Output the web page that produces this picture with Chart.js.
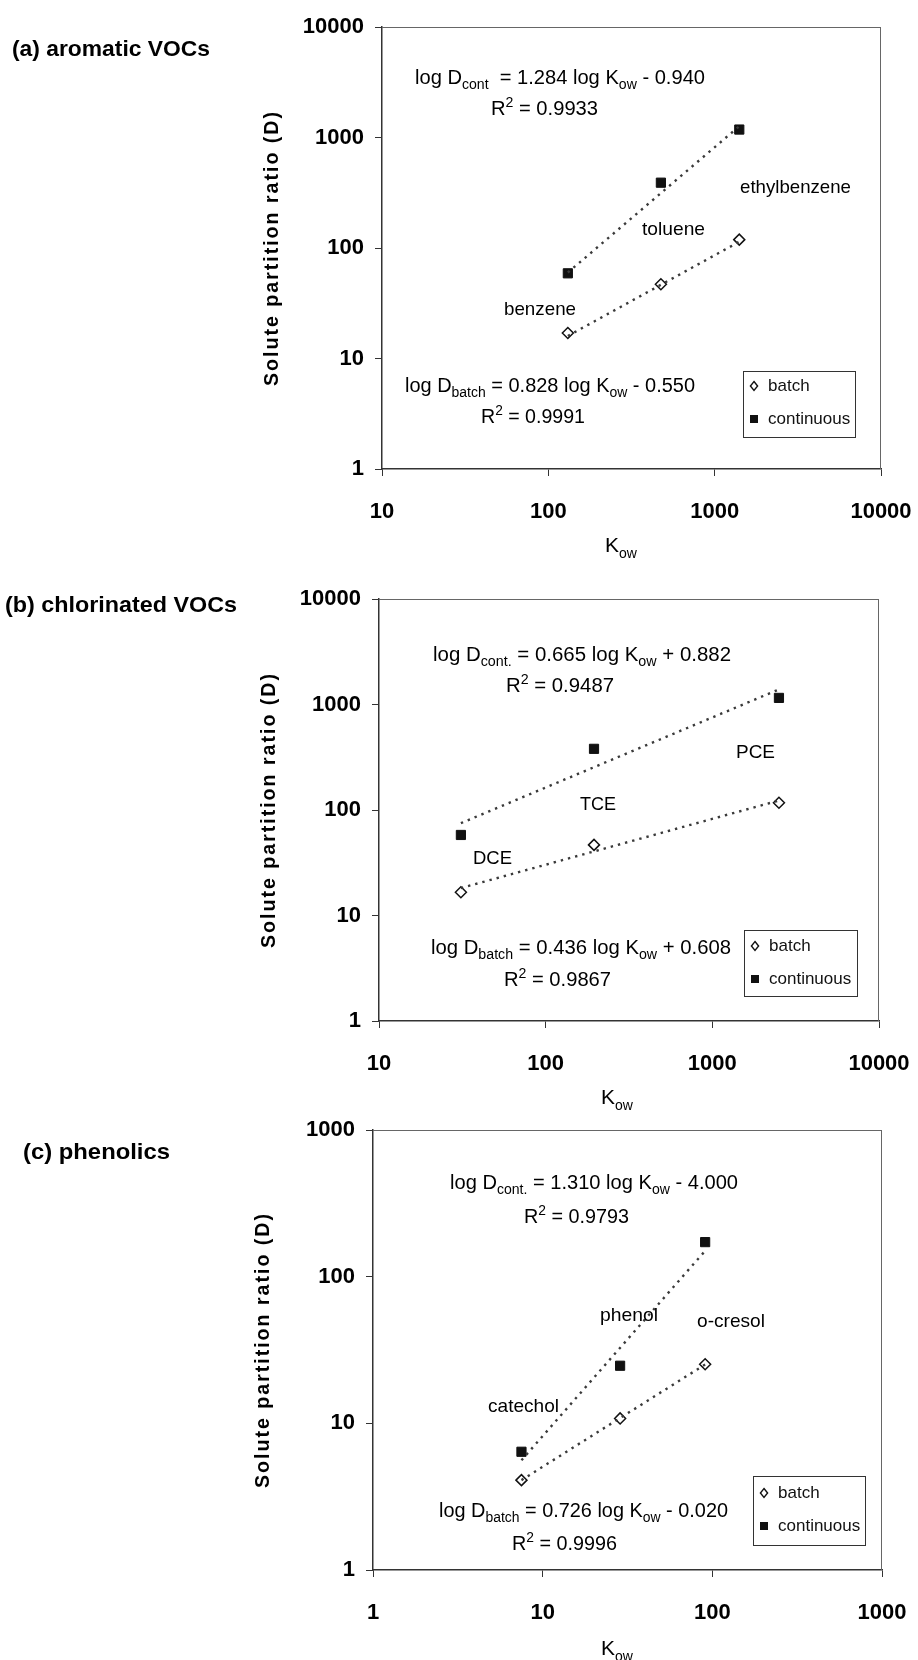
<!DOCTYPE html>
<html>
<head>
<meta charset="utf-8">
<script src="https://cdn.jsdelivr.net/npm/chart.js@4.4.0/dist/chart.umd.min.js"></script>
<style>
  body { margin: 0; background: #fff; }
  #page { position: relative; width: 918px; height: 1660px; overflow: hidden; }
  canvas { position: absolute; left: 0; }
</style>
</head>
<body>
<div id="page">
  <canvas id="chartA" width="918" height="580" style="top:0px"></canvas>
  <canvas id="chartB" width="918" height="570" style="top:560px"></canvas>
  <canvas id="chartC" width="918" height="550" style="top:1110px"></canvas>
</div>
<script>
// (a) aromatic VOCs
const aKow = [131, 475, 1406];
const aBatch = [17, 47, 119];
const aCont = [59, 390, 1180];
const aBatchFit = [16.0, 114];
const aContFit = [60, 1265];

// (b) chlorinated VOCs
const bKow = [31, 195, 2510];
const bBatch = [16.6, 46.7, 117];
const bCont = [58, 380, 1155];
const bBatchFit = [18.2, 123];
const bContFit = [75, 1390];

// (c) phenolics
const cKow = [7.5, 28.6, 90.7];
const cBatch = [4.1, 10.8, 25.3];
const cCont = [6.4, 24.7, 172];
const cBatchFit = [4.1, 25.2];
const cContFit = [5.6, 150];

const ticksVOC = [10, 100, 1000, 10000];
const ticksD4 = [1, 10, 100, 1000, 10000];
const ticksPhen = [1, 10, 100, 1000];
const ticksD3 = [1, 10, 100, 1000];

const FONT = "'Liberation Sans', Arial, sans-serif";

// draws text made of pieces: 0 normal, 1 subscript, 2 superscript
function drawRich(ctx, segs, x, y, size, width, bold) {
    const w = bold ? 'bold ' : '';
    const small = Math.round(size * 0.68);
    let total = 0;
    segs.forEach(s => {
        ctx.font = w + (s[1] ? small : size) + 'px ' + FONT;
        total += ctx.measureText(s[0]).width;
    });
    const sc = width ? width / total : 1;
    ctx.save();
    ctx.translate(x, y);
    ctx.scale(sc, 1);
    ctx.textBaseline = 'alphabetic';
    ctx.textAlign = 'left';
    let cx = 0;
    segs.forEach(s => {
        ctx.font = w + (s[1] ? small : size) + 'px ' + FONT;
        const dy = s[1] === 1 ? size * 0.27 : (s[1] === 2 ? -size * 0.4 : 0);
        ctx.fillText(s[0], cx, dy);
        cx += ctx.measureText(s[0]).width;
    });
    ctx.restore();
}

function makeAnnot(p) {
    return {
        id: 'annot_' + p.id,
        afterDraw(chart) {
            const ctx = chart.ctx;
            const a = chart.chartArea;
            const top = p.canvasTop;
            ctx.save();
            // box top and right
            ctx.strokeStyle = '#666';
            ctx.lineWidth = 1;
            ctx.beginPath();
            ctx.moveTo(a.left, a.top + 0.5);
            ctx.lineTo(a.right, a.top + 0.5);
            ctx.moveTo(a.right - 0.5, a.top);
            ctx.lineTo(a.right - 0.5, a.bottom);
            ctx.stroke();

            ctx.fillStyle = '#000';
            p.texts.forEach(t => drawRich(ctx, t.segs, t.x, t.y - top, t.size, t.w, t.bold));

            // y axis title
            ctx.save();
            ctx.translate(a.left - 110, (a.top + a.bottom) / 2);
            ctx.rotate(-Math.PI / 2);
            ctx.font = 'bold 20px ' + FONT;
            ctx.letterSpacing = '2px';
            const label = 'Solute partition ratio (D)';
            const lw = ctx.measureText(label).width;
            ctx.scale(276 / lw, 1);
            ctx.textAlign = 'center';
            ctx.textBaseline = 'middle';
            ctx.fillText(label, 0, 0);
            ctx.restore();
            ctx.letterSpacing = '0px';

            // legend
            const L = p.legend;
            ctx.fillStyle = '#fff';
            ctx.fillRect(L.l, L.t - top, L.r - L.l, L.b - L.t);
            ctx.strokeStyle = '#333';
            ctx.lineWidth = 1;
            ctx.strokeRect(L.l + 0.5, L.t - top + 0.5, L.r - L.l, L.b - L.t);
            const mx = L.l + 11;
            const y1 = L.row1 - top, y2 = L.row2 - top;
            ctx.beginPath();
            ctx.moveTo(mx, y1 - 4.5);
            ctx.lineTo(mx + 3.6, y1);
            ctx.lineTo(mx, y1 + 4.5);
            ctx.lineTo(mx - 3.6, y1);
            ctx.closePath();
            ctx.lineWidth = 1.4;
            ctx.strokeStyle = '#111';
            ctx.stroke();
            ctx.fillStyle = '#111';
            ctx.fillRect(mx - 4, y2 - 4, 8, 8);
            ctx.font = '17px ' + FONT;
            ctx.textBaseline = 'middle';
            ctx.textAlign = 'left';
            ctx.fillText('batch', L.l + 25, y1);
            ctx.fillText('continuous', L.l + 25, y2);
            ctx.restore();
        }
    };
}

function makePanel(p) {
    const canvas = document.getElementById(p.id);
    const H = canvas.height;
    const yW = 80, xH = 70;
    const pts = (xs, ys) => xs.map((x, i) => ({ x: x, y: ys[i] }));
    const ends = (xs, ys) => [{ x: xs[0], y: ys[0] }, { x: xs[xs.length - 1], y: ys[1] }];
    const tickFont = { family: FONT, size: 22, weight: 'bold' };
    // keep label overflow from moving the plot area
    const noPad = s => { s.paddingLeft = 0; s.paddingRight = 0; s.paddingTop = 0; s.paddingBottom = 0; };

    new Chart(canvas, {
        type: 'scatter',
        data: {
            datasets: [
                {
                    data: ends(p.kow, p.batchFit), showLine: true, pointRadius: 0,
                    borderColor: '#3a3a3a', borderWidth: 2.4, borderDash: [2.4, 5]
                },
                {
                    data: ends(p.kow, p.contFit), showLine: true, pointRadius: 0,
                    borderColor: '#3a3a3a', borderWidth: 2.4, borderDash: [2.4, 5]
                },
                {
                    label: 'batch', data: pts(p.kow, p.batch),
                    pointStyle: 'rectRot', pointRadius: 5.5, pointBorderWidth: 1.5,
                    backgroundColor: '#fff', borderColor: '#111'
                },
                {
                    label: 'continuous', data: pts(p.kow, p.cont),
                    pointStyle: 'rect', pointRadius: 6.5, pointBorderWidth: 1,
                    backgroundColor: '#111', borderColor: '#111'
                }
            ]
        },
        options: {
            responsive: false,
            animation: false,
            devicePixelRatio: 1,
            layout: {
                padding: {
                    left: p.plot.l - yW,
                    top: p.plot.t - p.canvasTop,
                    right: 918 - p.plot.r,
                    bottom: H - (p.plot.b - p.canvasTop) - xH
                }
            },
            plugins: { legend: { display: false }, tooltip: { enabled: false } },
            scales: {
                x: {
                    type: 'logarithmic', min: p.xTicks[0], max: p.xTicks[p.xTicks.length - 1],
                    afterBuildTicks: ax => { ax.ticks = p.xTicks.map(v => ({ value: v })); },
                    afterFit: s => { s.height = xH; noPad(s); },
                    grid: { drawOnChartArea: false, drawTicks: true, tickLength: 7, color: '#333' },
                    border: { color: '#333', width: 1.5 },
                    ticks: {
                        font: tickFont, color: '#000', padding: 23, maxRotation: 0, autoSkip: false,
                        callback: v => String(v)
                    }
                },
                y: {
                    type: 'logarithmic', min: p.yTicks[0], max: p.yTicks[p.yTicks.length - 1],
                    afterBuildTicks: ax => { ax.ticks = p.yTicks.map(v => ({ value: v })); },
                    afterFit: s => { s.width = yW; noPad(s); },
                    grid: { drawOnChartArea: false, drawTicks: true, tickLength: 7, color: '#333' },
                    border: { color: '#333', width: 1.5 },
                    ticks: {
                        font: tickFont, color: '#000', padding: 11, autoSkip: false,
                        callback: v => String(v)
                    }
                }
            }
        },
        plugins: [makeAnnot(p)]
    });
}

const eq = (name, body, tail) => [['log D', 0], [name, 1], [body, 0], ['ow', 1], [tail, 0]];
const r2 = v => [['R', 0], ['2', 2], [' = ' + v, 0]];
const word = s => [[s, 0]];
const kow = [['K', 0], ['ow', 1]];

makePanel({
    id: 'chartA', canvasTop: 0,
    plot: { l: 382, t: 27, r: 881, b: 469 },
    xTicks: ticksVOC, yTicks: ticksD4,
    kow: aKow, batch: aBatch, cont: aCont, batchFit: aBatchFit, contFit: aContFit,
    legend: { l: 743, t: 371, r: 855, b: 437, row1: 386, row2: 419 },
    texts: [
        { segs: word('(a) aromatic VOCs'), x: 12, y: 56, size: 22, w: 198, bold: true },
        { segs: eq('cont', '  = 1.284 log K', ' - 0.940'), x: 415, y: 84, size: 20, w: 290 },
        { segs: r2('0.9933'), x: 491, y: 115, size: 20, w: 107 },
        { segs: word('ethylbenzene'), x: 740, y: 193, size: 19, w: 111 },
        { segs: word('toluene'), x: 642, y: 235, size: 19, w: 63 },
        { segs: word('benzene'), x: 504, y: 315, size: 19, w: 72 },
        { segs: eq('batch', ' = 0.828 log K', ' - 0.550'), x: 405, y: 392, size: 20, w: 290 },
        { segs: r2('0.9991'), x: 481, y: 423, size: 20, w: 104 },
        { segs: kow, x: 605, y: 552, size: 21 }
    ]
});

makePanel({
    id: 'chartB', canvasTop: 560,
    plot: { l: 379, t: 599, r: 879, b: 1021 },
    xTicks: ticksVOC, yTicks: ticksD4,
    kow: bKow, batch: bBatch, cont: bCont, batchFit: bBatchFit, contFit: bContFit,
    legend: { l: 744, t: 930, r: 857, b: 996, row1: 946, row2: 979 },
    texts: [
        { segs: word('(b) chlorinated VOCs'), x: 5, y: 612, size: 22, w: 232, bold: true },
        { segs: eq('cont.', ' = 0.665 log K', ' + 0.882'), x: 433, y: 661, size: 20, w: 298 },
        { segs: r2('0.9487'), x: 506, y: 692, size: 20, w: 108 },
        { segs: word('PCE'), x: 736, y: 758, size: 19, w: 39 },
        { segs: word('TCE'), x: 580, y: 810, size: 19, w: 36 },
        { segs: word('DCE'), x: 473, y: 864, size: 19, w: 39 },
        { segs: eq('batch', ' = 0.436 log K', ' + 0.608'), x: 431, y: 954, size: 20, w: 300 },
        { segs: r2('0.9867'), x: 504, y: 986, size: 20, w: 107 },
        { segs: kow, x: 601, y: 1104, size: 21 }
    ]
});

makePanel({
    id: 'chartC', canvasTop: 1110,
    plot: { l: 373, t: 1130, r: 882, b: 1570 },
    xTicks: ticksPhen, yTicks: ticksD3,
    kow: cKow, batch: cBatch, cont: cCont, batchFit: cBatchFit, contFit: cContFit,
    legend: { l: 753, t: 1476, r: 865, b: 1545, row1: 1493, row2: 1526 },
    texts: [
        { segs: word('(c) phenolics'), x: 23, y: 1159, size: 22, w: 147, bold: true },
        { segs: eq('cont.', ' = 1.310 log K', ' - 4.000'), x: 450, y: 1189, size: 20, w: 288 },
        { segs: r2('0.9793'), x: 524, y: 1223, size: 20, w: 105 },
        { segs: word('phenol'), x: 600, y: 1321, size: 19, w: 58 },
        { segs: word('o-cresol'), x: 697, y: 1327, size: 19, w: 68 },
        { segs: word('catechol'), x: 488, y: 1412, size: 19, w: 71 },
        { segs: eq('batch', ' = 0.726 log K', ' - 0.020'), x: 439, y: 1517, size: 20, w: 289 },
        { segs: r2('0.9996'), x: 512, y: 1550, size: 20, w: 105 },
        { segs: kow, x: 601, y: 1655, size: 21 }
    ]
});
</script>
</body>
</html>
